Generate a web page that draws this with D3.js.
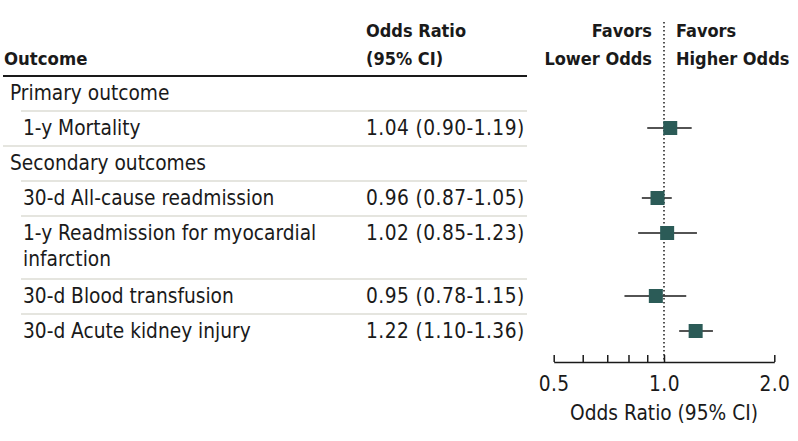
<!DOCTYPE html>
<html>
<head>
<meta charset="utf-8">
<script src="https://cdn.jsdelivr.net/npm/d3@7"></script>
<style>
  html, body { margin: 0; padding: 0; background: #fff; }
  svg { display: block; }
  text { font-family: "DejaVu Sans Condensed", "DejaVu Sans", sans-serif; font-stretch: condensed; fill: #1a1a1a; }
</style>
</head>
<body>
<svg id="chart" width="798" height="441"></svg>
<script>
// ---- Data ----
const rowKinds   = ["group", "item", "group", "item", "item", "item", "item"];
const rowLabels  = [
  ["Primary outcome"],
  ["1-y Mortality"],
  ["Secondary outcomes"],
  ["30-d All-cause readmission"],
  ["1-y Readmission for myocardial", "infarction"],
  ["30-d Blood transfusion"],
  ["30-d Acute kidney injury"]
];
const oddsRatio  = [null, 1.04, null, 0.96, 1.02, 0.95, 1.22];
const ciLower    = [null, 0.90, null, 0.87, 0.85, 0.78, 1.10];
const ciUpper    = [null, 1.19, null, 1.05, 1.23, 1.15, 1.36];
const majorTicks = [0.5, 1.0, 2.0];
const minorTicks = [0.6, 0.7, 0.8, 0.9];
const headerOutcome = "Outcome";
const headerOR = ["Odds Ratio", "(95% CI)"];
const favorsLeft = ["Favors", "Lower Odds"];
const favorsRight = ["Favors", "Higher Odds"];
const axisTitle = "Odds Ratio (95% CI)";

// ---- Layout ----
const svg = d3.select("#chart");
const headerLineY = 76;
const rowBase = 35, extraLine = 28;
const tableLeft = 3, tableRight = 527, itemIndent = 21;
const orColX = 366;
const bodySize = 20.7;

const rowHeights = rowLabels.map(l => rowBase + extraLine * (l.length - 1));
const rowTops = [];
rowHeights.reduce((acc, h) => { rowTops.push(acc); return acc + h; }, headerLineY);
const idx = d3.range(rowLabels.length);
const yTop = d3.scaleOrdinal().domain(idx).range(rowTops);

const x = d3.scaleLog().domain([0.5, 2.0]).range([553.7, 774.3]);
const axisY = 362;

// ---- Header ----
svg.append("text").attr("x", 4).attr("y", 65)
  .attr("font-size", 18.4).attr("font-weight", "bold").text(headerOutcome);
headerOR.forEach((t, i) => svg.append("text").attr("x", orColX).attr("y", 37 + i * 28)
  .attr("font-size", 18).attr("font-weight", "bold").text(t));
favorsLeft.forEach((t, i) => svg.append("text").attr("x", 652).attr("y", 37 + i * 28)
  .attr("text-anchor", "end").attr("font-size", 18).attr("font-weight", "bold").text(t));
favorsRight.forEach((t, i) => svg.append("text").attr("x", 676).attr("y", 37 + i * 28)
  .attr("font-size", 18).attr("font-weight", "bold").text(t));

svg.append("line").attr("x1", tableLeft).attr("x2", tableRight)
  .attr("y1", headerLineY).attr("y2", headerLineY)
  .attr("stroke", "#1a1a1a").attr("stroke-width", 2);

// ---- Separators ----
idx.forEach(i => {
  if (i === idx.length - 1) return;
  const y = yTop(i) + rowHeights[i];
  const nextIsGroup = rowKinds[i + 1] === "group";
  svg.append("line")
    .attr("x1", nextIsGroup ? tableLeft : itemIndent).attr("x2", tableRight)
    .attr("y1", y).attr("y2", y)
    .attr("stroke", "#dcdcd5").attr("stroke-width", 1.5);
});

// ---- Row text ----
idx.forEach(i => {
  const lx = rowKinds[i] === "group" ? 10 : 23;
  rowLabels[i].forEach((t, j) => {
    svg.append("text").attr("x", lx).attr("y", yTop(i) + 24 + j * 26)
      .attr("font-size", bodySize).text(t);
  });
  if (oddsRatio[i] != null) {
    const f = d3.format(".2f");
    svg.append("text").attr("x", orColX).attr("y", yTop(i) + 24)
      .attr("font-size", bodySize).attr("letter-spacing", 0.45)
      .text(`${f(oddsRatio[i])} (${f(ciLower[i])}-${f(ciUpper[i])})`);
  }
});

// ---- Reference line ----
svg.append("line").attr("x1", x(1)).attr("x2", x(1))
  .attr("y1", 22).attr("y2", axisY)
  .attr("stroke", "#1a1a1a").attr("stroke-width", 1.5)
  .attr("stroke-dasharray", "1.5,2.5");

// ---- Axis ----
const gAxis = svg.append("g").attr("transform", `translate(0,${axisY})`);
gAxis.call(d3.axisBottom(x).tickValues(majorTicks).tickFormat(d3.format(".1f"))
  .tickSizeInner(-7).tickSizeOuter(0).tickPadding(14));
gAxis.selectAll(".domain").attr("stroke", "#1a1a1a").attr("stroke-width", 1.5);
gAxis.selectAll(".tick line").attr("stroke", "#1a1a1a").attr("stroke-width", 1.5);
gAxis.selectAll(".tick text").attr("font-size", bodySize).attr("fill", "#1a1a1a")
  .attr("letter-spacing", 0.4);
const gMinor = svg.append("g").attr("transform", `translate(0,${axisY})`);
gMinor.call(d3.axisBottom(x).tickValues(minorTicks).tickFormat("")
  .tickSizeInner(-7).tickSizeOuter(0));
gMinor.select(".domain").remove();
gMinor.selectAll(".tick line").attr("stroke", "#1a1a1a").attr("stroke-width", 1.5);
svg.selectAll("g").attr("font-family", null).attr("font-size", null);

svg.append("text").attr("x", x(1)).attr("y", 420).attr("text-anchor", "middle")
  .attr("font-size", bodySize).text(axisTitle);

// ---- CI lines & markers ----
const pts = idx.filter(i => oddsRatio[i] != null);
const markerSize = 14;
svg.selectAll("line.ci").data(pts).join("line").attr("class", "ci")
  .attr("x1", i => x(ciLower[i])).attr("x2", i => x(ciUpper[i]))
  .attr("y1", i => yTop(i) + 17).attr("y2", i => yTop(i) + 17)
  .attr("stroke", "#1a1a1a").attr("stroke-width", 1.5);
svg.selectAll("rect.or").data(pts).join("rect").attr("class", "or")
  .attr("x", i => x(oddsRatio[i]) - markerSize / 2)
  .attr("y", i => yTop(i) + 17 - markerSize / 2)
  .attr("width", markerSize).attr("height", markerSize)
  .attr("fill", "#2b5b57");
</script>
</body>
</html>
